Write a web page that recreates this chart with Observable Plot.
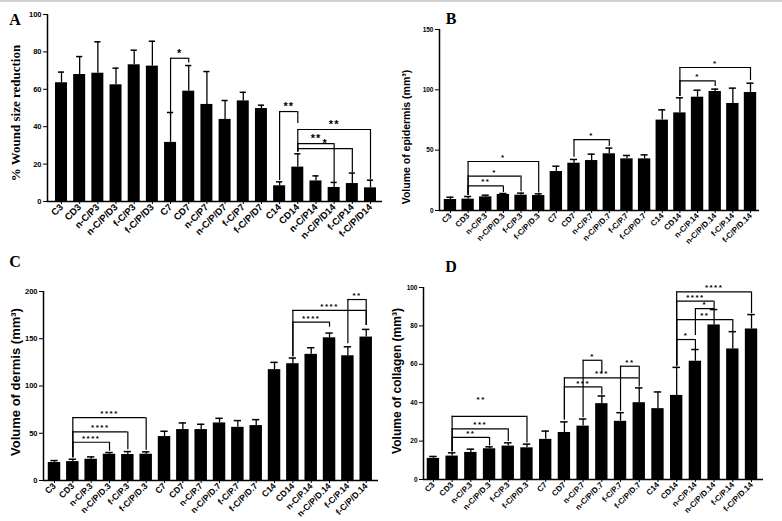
<!DOCTYPE html>
<html><head><meta charset="utf-8">
<script src="https://cdn.jsdelivr.net/npm/d3@7"></script>
<script src="https://cdn.jsdelivr.net/npm/@observablehq/plot@0.6"></script>
<style>
body{margin:0;background:#fff;}
#wrap{position:relative;width:782px;height:521px;overflow:hidden;background:#fff;font-family:"Liberation Sans",Arial,sans-serif;color:#000;}
#topband{position:absolute;left:0;top:0;width:782px;height:2px;background:#cfcfcf;}
.panel{position:absolute;}
.panel svg{overflow:visible;display:block;}
.letter{position:absolute;font-family:"Liberation Serif",serif;font-weight:bold;font-size:16px;transform:translate(-50%,-50%);line-height:1;}
.ytitle{position:absolute;white-space:nowrap;font-weight:bold;transform:translate(-50%,-50%) rotate(-90deg);line-height:1;}
</style></head><body><div id="wrap"><div id="topband"></div></div>
<script>
// ---------- categories ----------
const catsA = ["C3","CD3","n-C/P3","n-C/P/D3","f-C/P3","f-C/P/D3","C7","CD7","n-C/P7","n-C/P/D7","f-C/P7","f-C/P/D7","C14","CD14","n-C/P14","n-C/P/D14","f-C/P14","f-C/P/D14"];
const catsBCD = ["C3","CD3","n-C/P.3","n-C/P/D.3","f-C/P.3","f-C/P/D.3","C7","CD7","n-C/P.7","n-C/P/D.7","f-C/P.7","f-C/P/D.7","C14","CD14","n-C/P.14","n-C/P/D.14","f-C/P.14","f-C/P/D.14"];

// ---------- panel A: % wound size reduction ----------
const meanA = [63.5,67.9,68.6,62.4,73.1,72.4,31.6,59.0,51.9,43.9,53.8,49.7,8.4,18.4,11.0,7.5,9.6,7.3];
const errA  = [5.7,9.6,16.8,8.9,7.8,13.3,16.0,13.7,17.6,10.1,4.6,1.8,2.1,7.1,2.7,2.7,5.6,4.1];
const yTicksA = [0,20,40,60,80,100];
// [from, to, level, left leg end, right leg end, label]
const bracketsA = [
  [6,7,76.6,45.6,74.0,"*"],
  [12,13,48.1,11.2,41.7,"**"],
  [13,17,38.5,26.5,11.8,"**"],
  [13,15,31.0,26.5,10.2,"**"],
  [13,16,28.3,26.5,15.5,"*"]
];

// ---------- panel B: volume of epidermis ----------
const meanB = [9.1,9.4,11.3,13.3,12.7,12.4,32.3,39.2,41.4,47.0,42.8,42.8,74.9,80.9,93.9,98.6,88.7,97.8];
const errB  = [1.9,2.2,1.4,0.8,1.7,1.4,4.4,3.1,5.3,4.7,2.8,3.3,8.5,12.5,5.8,2.0,12.7,7.7];
const yTicksB = [0,50,100,150];
const bracketsB = [
  [1,3,20.4,12.6,15.0,"**"],
  [1,4,28.5,12.6,15.5,"*"],
  [1,5,40.6,12.6,14.5,"*"],
  [7,9,58.8,44.2,53.0,"*"],
  [13,15,107.5,94.5,102.8,"*"],
  [13,17,118.5,94.5,107.7,"*"]
];

// ---------- panel C: volume of dermis ----------
const meanC = [19.0,20.0,22.5,27.8,27.5,27.8,46.5,53.9,53.9,60.9,56.3,58.1,117.3,123.6,133.5,151.0,132.0,151.8];
const errC  = [2.1,2.5,2.5,1.8,3.1,2.5,5.6,7.0,5.6,4.9,7.1,6.3,7.7,6.0,7.0,5.0,9.5,8.1];
const yTicksC = [0,50,100,150,200];
const bracketsC = [
  [1,3,40.5,24.0,31.0,"****"],
  [1,4,51.4,24.0,32.5,"****"],
  [1,5,66.5,24.0,32.0,"****"],
  [13,15,167.6,131.0,162.3,"****"],
  [13,17,180.0,131.0,164.0,"****"],
  [16,17,191.5,144.7,164.0,"**"]
];

// ---------- panel D: volume of collagen ----------
const meanD = [11.0,12.2,14.1,16.0,17.4,16.5,20.9,24.5,27.8,39.5,30.3,40.0,36.9,43.8,61.6,80.5,68.0,78.4];
const errD  = [1.0,1.7,1.7,1.0,1.7,1.9,4.3,5.5,3.7,4.0,4.5,7.7,8.7,14.6,6.1,8.0,9.0,7.5];
const yTicksD = [0,20,40,60,80,100];
const bracketsD = [
  [1,3,21.9,14.5,17.5,"**"],
  [1,4,26.4,14.5,19.8,"***"],
  [1,5,32.9,14.5,19.0,""],
  [7,9,48.2,31.0,44.0,"***"],
  [7,11,52.9,31.0,48.2,"***"],
  [8,9,62.1,32.2,55.0,"*"],
  [10,11,59.0,35.5,52.9,"**"],
  [13,14,72.9,59.0,67.7,"*"],
  [13,16,83.3,59.0,77.0,"**"],
  [14,15,89.0,75.0,88.0,"*"],
  [13,15,92.9,59.0,88.0,"****"],
  [13,17,97.7,59.0,86.4,"****"]
];
const noteXD = [2.55], noteYD = [41.6], noteTextD = ["**"];

const wrap = document.getElementById("wrap");

function addDiv(cls, text, x, y, extra) {
  const d = document.createElement("div");
  d.className = cls;
  d.textContent = text;
  d.style.left = x + "px";
  d.style.top = y + "px";
  Object.assign(d.style, extra || {});
  wrap.appendChild(d);
}

function panel(o) {
  const rows = o.cats.map((c, i) => ({i, mean: o.means[i], top: o.means[i] + o.errs[i]}));
  const br = o.brackets.map(b => ({a: b[0], b: b[1], y: b[2], ya: b[3], yb: b[4], label: b[5]}));
  const notes = (o.notesX || []).map((x, k) => ({x, y: o.notesY[k], t: o.notesT[k]}));
  const hw = o.barHalf, cw = o.capHalf;
  const svg = Plot.plot({
    width: o.width, height: o.height,
    marginTop: o.mt, marginRight: o.mr, marginBottom: o.mb, marginLeft: o.ml,
    style: {fontFamily: "'Liberation Sans', Arial, sans-serif", fontWeight: "bold", fontSize: o.xFont + "px", background: "transparent", overflow: "visible", color: "#000"},
    x: {domain: o.xdom, ticks: d3.range(o.cats.length), tickFormat: i => o.cats[i], tickRotate: -45, tickSize: 3, tickPadding: 1, label: null},
    y: {domain: o.ydom, ticks: o.yticks, tickSize: 4, tickPadding: 2, label: null},
    marks: [
      Plot.rect(rows, {x1: d => d.i - hw, x2: d => d.i + hw, y1: 0, y2: "mean", fill: "#000"}),
      Plot.ruleX(rows, {x: "i", y1: "mean", y2: "top", stroke: "#000", strokeWidth: 1.3}),
      Plot.ruleY(rows, {y: "top", x1: d => d.i - cw, x2: d => d.i + cw, stroke: "#000", strokeWidth: 1.5}),
      Plot.ruleY(br, {y: "y", x1: "a", x2: "b", stroke: "#000", strokeWidth: 1.2}),
      Plot.ruleX(br, {x: "a", y1: "y", y2: "ya", stroke: "#000", strokeWidth: 1.2}),
      Plot.ruleX(br, {x: "b", y1: "y", y2: "yb", stroke: "#000", strokeWidth: 1.2}),
      Plot.text(br, {x: d => (d.a + d.b) / 2, y: "y", text: "label", dy: o.starDy, fontSize: o.starFont, fill: "#000"}),
      Plot.text(notes, {x: "x", y: "y", text: "t", fontSize: o.starFont, fill: "#000"}),
      Plot.ruleY([o.ydom[0]], {stroke: "#000", strokeWidth: 1.5}),
      Plot.ruleX([o.xdom[0]], {y1: o.ydom[0], y2: o.ydom[1], stroke: "#000", strokeWidth: 1.5})
    ]
  });
  svg.querySelectorAll('g[aria-label^="y-axis"] text').forEach(t => { t.style.fontSize = o.yFont + "px"; });
  svg.querySelectorAll('g[aria-label^="x-axis"] text').forEach(t => { t.style.fontSize = o.xFont + "px"; });
  svg.querySelectorAll('text').forEach(t => { if (o.starSpacing && /^\*+$/.test(t.textContent)) t.style.letterSpacing = o.starSpacing; });
  const div = document.createElement("div");
  div.className = "panel";
  div.style.left = o.left + "px";
  div.style.top = o.top + "px";
  div.appendChild(svg);
  wrap.appendChild(div);
}

panel({cats: catsA, means: meanA, errs: errA, brackets: bracketsA,
  left: 0, top: 0, width: 391, height: 260, mt: 14, mr: 9, mb: 59, ml: 47,
  xdom: [-0.77, 17.66], ydom: [0, 100], yticks: yTicksA,
  xFont: 9.5, yFont: 7.5, starFont: 11, starDy: -5, starSpacing: "1px", barHalf: 0.33, capHalf: 0.17});

panel({cats: catsBCD, means: meanB, errs: errB, brackets: bracketsB,
  left: 391, top: 0, width: 391, height: 260, mt: 29, mr: 23, mb: 50, ml: 48,
  xdom: [-0.62, 17.51], ydom: [0, 150], yticks: yTicksB,
  xFont: 8, yFont: 6.5, starFont: 8, starDy: -4, starSpacing: "1.5px", barHalf: 0.35, capHalf: 0.2});

panel({cats: catsBCD, means: meanC, errs: errC, brackets: bracketsC,
  left: 0, top: 260, width: 391, height: 261, mt: 31, mr: 13, mb: 41, ml: 43,
  xdom: [-0.6, 17.67], ydom: [0, 200], yticks: yTicksC,
  xFont: 8.7, yFont: 7.5, starFont: 8, starDy: -4, starSpacing: "1.5px", barHalf: 0.34, capHalf: 0.2});

panel({cats: catsBCD, means: meanD, errs: errD, brackets: bracketsD, notesX: noteXD, notesY: noteYD, notesT: noteTextD,
  left: 391, top: 260, width: 391, height: 261, mt: 27, mr: 19, mb: 42, ml: 32,
  xdom: [-0.53, 17.64], ydom: [0, 100], yticks: yTicksD,
  xFont: 8, yFont: 6.5, starFont: 8, starDy: -4, starSpacing: "1.5px", barHalf: 0.33, capHalf: 0.2});

// panel letters
addDiv("letter", "A", 15, 20);
addDiv("letter", "B", 451, 19);
addDiv("letter", "C", 15, 262);
addDiv("letter", "D", 451, 267);
// y-axis titles
addDiv("ytitle", "% Wound size reduction", 15, 113, {fontFamily: "'Liberation Serif', serif", fontSize: "13px"});
addDiv("ytitle", "Volume of epidermis (mm³)", 406, 137, {fontSize: "10.5px"});
addDiv("ytitle", "Volume of dermis (mm³)", 15, 382, {fontSize: "13px"});
addDiv("ytitle", "Volume of collagen (mm³)", 397, 381, {fontSize: "12px"});
</script>
</body></html>
